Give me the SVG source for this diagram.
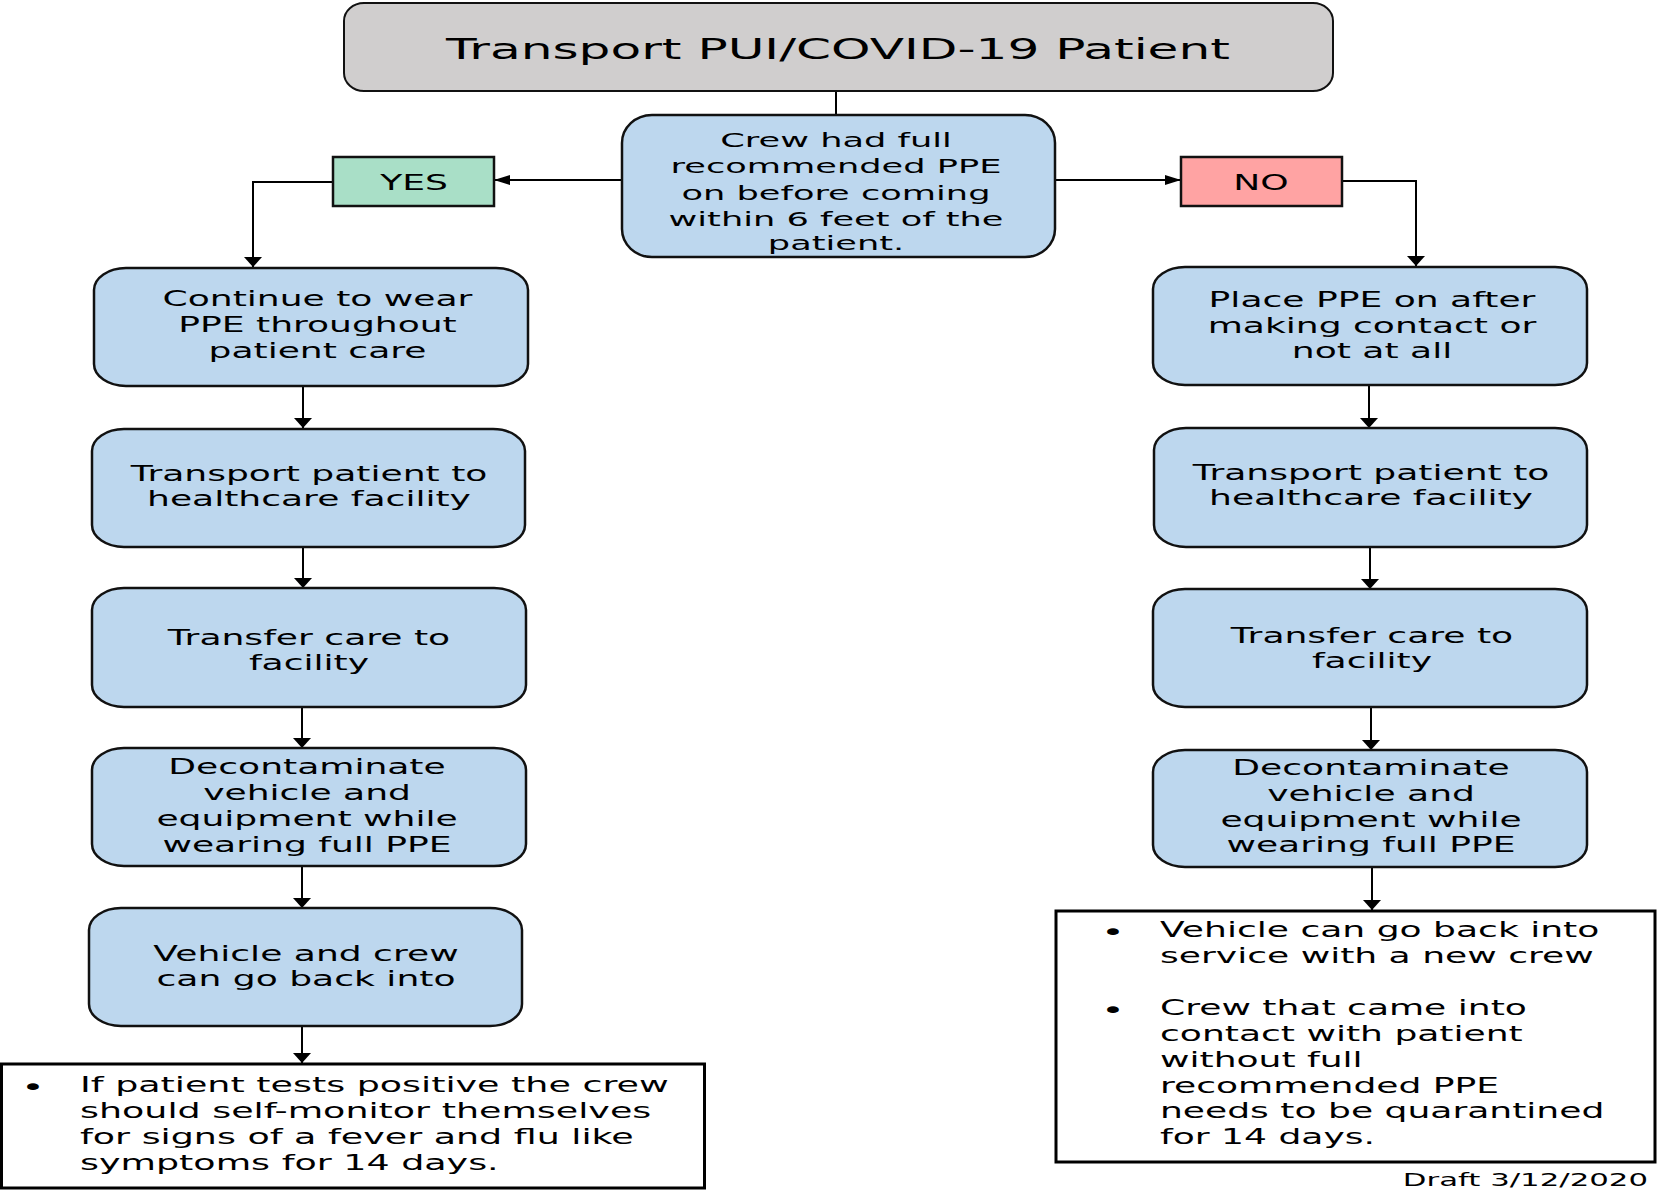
<svg xmlns="http://www.w3.org/2000/svg" width="1657" height="1191" viewBox="0 0 1657 1191">
<style>
.box{fill:#bdd7ee;stroke:#111;stroke-width:2.5}
.title{fill:#d0cece;stroke:#111;stroke-width:2}
.yes{fill:#a9dfc7;stroke:#111;stroke-width:2.5}
.no{fill:#ffa3a3;stroke:#111;stroke-width:2.5}
.note{fill:#fff;stroke:#000;stroke-width:3}
.c{font-family:"DejaVu Sans","Liberation Sans",sans-serif;font-size:20.5px;fill:#000;text-anchor:middle}
.l{font-family:"DejaVu Sans","Liberation Sans",sans-serif;font-size:20.5px;fill:#000;text-anchor:start}
.con{fill:none;stroke:#000;stroke-width:2}
</style>
<defs>
<marker id="aV" markerUnits="userSpaceOnUse" orient="auto" markerWidth="10" markerHeight="18" refX="10" refY="9"><path d="M0,0 L10,9 L0,18 Z" fill="#000"/></marker>
<marker id="aH" markerUnits="userSpaceOnUse" orient="auto" markerWidth="16" markerHeight="10" refX="16" refY="5"><path d="M0,0 L16,5 L0,10 Z" fill="#000"/></marker>
</defs>
<rect width="1657" height="1191" fill="#fff"/>

<g id="connectors">
<line class="con" x1="836" y1="91" x2="836" y2="115"/>
<line class="con" x1="622" y1="180" x2="494" y2="180" marker-end="url(#aH)"/>
<line class="con" x1="1055" y1="180" x2="1181" y2="180" marker-end="url(#aH)"/>
<path class="con" d="M333,182 H253 V267" marker-end="url(#aV)"/>
<path class="con" d="M1342,181 H1416 V266" marker-end="url(#aV)"/>
<line class="con" x1="303" y1="386" x2="303" y2="428" marker-end="url(#aV)"/>
<line class="con" x1="303" y1="547" x2="303" y2="588" marker-end="url(#aV)"/>
<line class="con" x1="302" y1="707" x2="302" y2="748" marker-end="url(#aV)"/>
<line class="con" x1="302" y1="866" x2="302" y2="908" marker-end="url(#aV)"/>
<line class="con" x1="302" y1="1026" x2="302" y2="1063" marker-end="url(#aV)"/>
<line class="con" x1="1369" y1="385" x2="1369" y2="428" marker-end="url(#aV)"/>
<line class="con" x1="1370" y1="547" x2="1370" y2="589" marker-end="url(#aV)"/>
<line class="con" x1="1371" y1="707" x2="1371" y2="750" marker-end="url(#aV)"/>
<line class="con" x1="1372" y1="867" x2="1372" y2="910" marker-end="url(#aV)"/>
</g>

<g id="title">
<rect class="title" x="344" y="3" width="989" height="88" rx="20" ry="18"/>
<text class="c" style="font-size:29px" transform="matrix(1.73 0 0 1 838 0)"><tspan x="0" y="59">Transport PUI/COVID-19 Patient</tspan></text>
</g>

<g id="crew">
<rect class="box" x="622" y="115" width="433" height="142" rx="30" ry="28"/>
<text class="c" style="font-size:20px" transform="matrix(1.76 0 0 1 836 0)"><tspan x="0" y="147">Crew had full</tspan><tspan x="0" y="173">recommended PPE</tspan><tspan x="0" y="200">on before coming</tspan><tspan x="0" y="226">within 6 feet of the</tspan><tspan x="0" y="250">patient.</tspan></text>
</g>

<g id="yes">
<rect class="yes" x="333" y="157" width="161" height="49"/>
<text class="c" style="font-size:20.5px" transform="matrix(1.76 0 0 1 414 0)"><tspan x="0" y="190">YES</tspan></text>
</g>

<g id="no">
<rect class="no" x="1181" y="157" width="161" height="49"/>
<text class="c" style="font-size:20.5px" transform="matrix(1.76 0 0 1 1261 0)"><tspan x="0" y="190">NO</tspan></text>
</g>

<g id="continue">
<rect class="box" x="94" y="268" width="434" height="118" rx="32" ry="22"/>
<text class="c" transform="matrix(1.76 0 0 1 317.5 0)"><tspan x="0" y="306">Continue to wear</tspan><tspan x="0" y="332">PPE throughout</tspan><tspan x="0" y="358">patient care</tspan></text>
</g>

<g id="transport-left">
<rect class="box" x="92" y="429" width="433" height="118" rx="32" ry="22"/>
<text class="c" transform="matrix(1.76 0 0 1 309 0)"><tspan x="0" y="481">Transport patient to</tspan><tspan x="0" y="506">healthcare facility</tspan></text>
</g>

<g id="transfer-left">
<rect class="box" x="92" y="588" width="434" height="119" rx="32" ry="22"/>
<text class="c" transform="matrix(1.76 0 0 1 309 0)"><tspan x="0" y="645">Transfer care to</tspan><tspan x="0" y="670">facility</tspan></text>
</g>

<g id="decon-left">
<rect class="box" x="92" y="748" width="434" height="118" rx="32" ry="22"/>
<text class="c" transform="matrix(1.76 0 0 1 307 0)"><tspan x="0" y="774">Decontaminate</tspan><tspan x="0" y="800">vehicle and</tspan><tspan x="0" y="826">equipment while</tspan><tspan x="0" y="852">wearing full PPE</tspan></text>
</g>

<g id="vehicle-crew">
<rect class="box" x="89" y="908" width="433" height="118" rx="32" ry="22"/>
<text class="c" transform="matrix(1.76 0 0 1 306 0)"><tspan x="0" y="961">Vehicle and crew</tspan><tspan x="0" y="986">can go back into</tspan></text>
</g>

<g id="note-left">
<rect class="note" x="1.5" y="1064" width="703" height="124"/>
<text class="c" style="font-size:23px" transform="matrix(1.76 0 0 1 33 0)"><tspan x="0" y="1095">•</tspan></text>
<text class="l" style="font-size:20.7px" transform="matrix(1.76 0 0 1 80 0)"><tspan x="0" y="1092">If patient tests positive the crew</tspan><tspan x="0" y="1118">should self-monitor themselves</tspan><tspan x="0" y="1144">for signs of a fever and flu like</tspan><tspan x="0" y="1170">symptoms for 14 days.</tspan></text>
</g>

<g id="place">
<rect class="box" x="1153" y="267" width="434" height="118" rx="32" ry="22"/>
<text class="c" transform="matrix(1.76 0 0 1 1372 0)"><tspan x="0" y="307">Place PPE on after</tspan><tspan x="0" y="333">making contact or</tspan><tspan x="0" y="358">not at all</tspan></text>
</g>

<g id="transport-right">
<rect class="box" x="1154" y="428" width="433" height="119" rx="32" ry="22"/>
<text class="c" transform="matrix(1.76 0 0 1 1371 0)"><tspan x="0" y="480">Transport patient to</tspan><tspan x="0" y="505">healthcare facility</tspan></text>
</g>

<g id="transfer-right">
<rect class="box" x="1153" y="589" width="434" height="118" rx="32" ry="22"/>
<text class="c" transform="matrix(1.76 0 0 1 1372 0)"><tspan x="0" y="643">Transfer care to</tspan><tspan x="0" y="668">facility</tspan></text>
</g>

<g id="decon-right">
<rect class="box" x="1153" y="750" width="434" height="117" rx="32" ry="22"/>
<text class="c" transform="matrix(1.76 0 0 1 1371 0)"><tspan x="0" y="775">Decontaminate</tspan><tspan x="0" y="801">vehicle and</tspan><tspan x="0" y="827">equipment while</tspan><tspan x="0" y="852">wearing full PPE</tspan></text>
</g>

<g id="note-right">
<rect class="note" x="1056" y="911" width="599" height="251"/>
<text class="c" style="font-size:23px" transform="matrix(1.76 0 0 1 1113 0)"><tspan x="0" y="940">•</tspan><tspan x="0" y="1018">•</tspan></text>
<text class="l" transform="matrix(1.76 0 0 1 1160 0)"><tspan x="0" y="937">Vehicle can go back into</tspan><tspan x="0" y="963">service with a new crew</tspan><tspan x="0" y="1015">Crew that came into</tspan><tspan x="0" y="1041">contact with patient</tspan><tspan x="0" y="1067">without full</tspan><tspan x="0" y="1093">recommended PPE</tspan><tspan x="0" y="1118">needs to be quarantined</tspan><tspan x="0" y="1144">for 14 days.</tspan></text>
</g>

<g id="draft">
<text class="c" style="font-size:17.5px;text-anchor:end" transform="matrix(1.76 0 0 1 1648 0)"><tspan x="0" y="1186">Draft 3/12/2020</tspan></text>
</g>
</svg>
